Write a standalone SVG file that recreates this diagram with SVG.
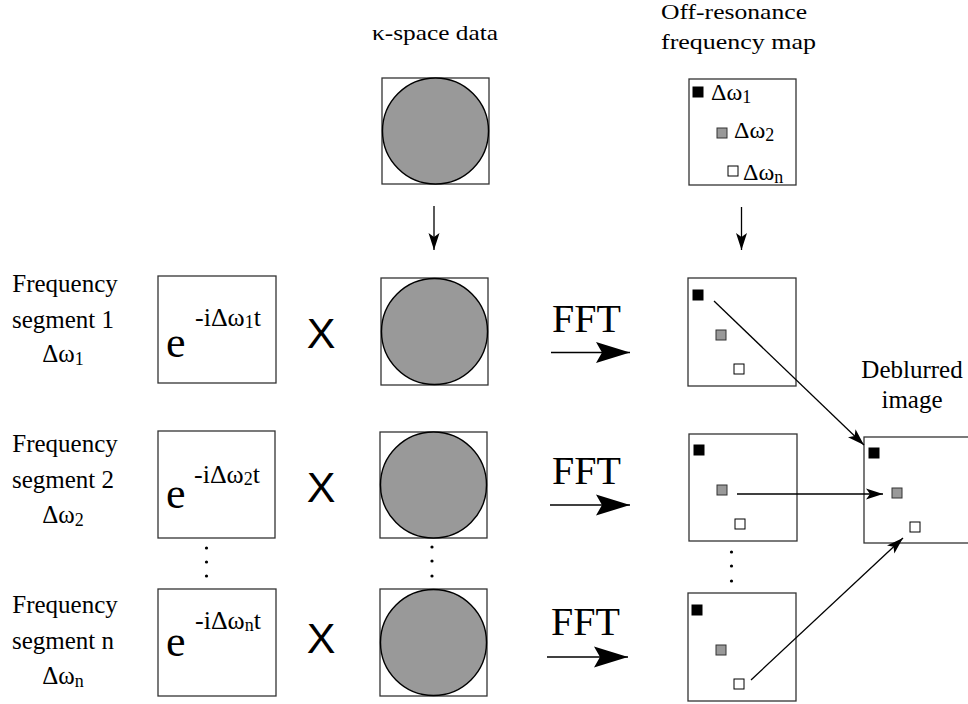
<svg xmlns="http://www.w3.org/2000/svg" width="968" height="704" viewBox="0 0 968 704">
<style>
.t{font-family:"Liberation Serif","Times New Roman",serif;fill:#000}
.lbl{font-size:25px;text-anchor:middle}
.ttl{font-size:22px}
.e{font-size:44px}
.ex{font-size:26px}
.fft{font-size:40px}
.x{font-family:"Liberation Sans",Arial,sans-serif;font-size:43px;text-anchor:middle;fill:#000}
.box{fill:#fff;stroke:#333;stroke-width:1.3}
.circ{fill:#999;stroke:#000;stroke-width:1.4}
.sqb{fill:#000;stroke:#000;stroke-width:1}
.sqg{fill:#999;stroke:#333;stroke-width:1}
.sqw{fill:#fff;stroke:#000;stroke-width:1}
.ln{fill:none;stroke:#000;stroke-width:1.3}
.dot{fill:#000}
</style>
<defs>
<marker id="big" markerUnits="userSpaceOnUse" viewBox="0 -11 34 22" refX="34" refY="0" markerWidth="34" markerHeight="22" orient="auto">
<path d="M0,-10.5 L34,0 L0,10.5 L6,0 z" fill="#000"/>
</marker>
<marker id="sm" markerUnits="userSpaceOnUse" viewBox="0 -6 17 12" refX="17" refY="0" markerWidth="17" markerHeight="12" orient="auto">
<path d="M0,-5.5 L17,0 L0,5.5 L4,0 z" fill="#000"/>
</marker>
</defs>

<g id="title-kspace"><text class="t ttl" x="372" y="40" textLength="126" lengthAdjust="spacingAndGlyphs">κ-space data</text></g>
<g id="title-map">
<text class="t ttl" x="661" y="19" textLength="146" lengthAdjust="spacingAndGlyphs">Off-resonance</text>
<text class="t ttl" x="661" y="49" textLength="155" lengthAdjust="spacingAndGlyphs">frequency map</text>
</g>

<g id="kspace-top">
<rect class="box" x="382" y="78" width="107" height="106"/>
<circle class="circ" cx="435.5" cy="131" r="53"/>
</g>
<g id="map-top">
<rect class="box" x="689" y="79" width="107" height="106"/>
<rect class="sqb" x="693" y="87" width="10" height="10"/>
<text class="t" x="711" y="100" font-size="24">Δω<tspan font-size="18" dy="3">1</tspan></text>
<rect class="sqg" x="717" y="128" width="10" height="10"/>
<text class="t" x="734" y="138" font-size="24">Δω<tspan font-size="18" dy="3">2</tspan></text>
<rect class="sqw" x="728" y="166" width="10" height="10"/>
<text class="t" x="743" y="180" font-size="24">Δω<tspan font-size="18" dy="3">n</tspan></text>
</g>

<!-- Row 1 -->
<g id="label1">
<text class="t lbl" x="65" y="292">Frequency</text>
<text class="t lbl" x="63" y="328">segment 1</text>
<text class="t lbl" x="63" y="362">Δω<tspan font-size="18" dy="3">1</tspan></text>
</g>
<g id="exp1">
<rect class="box" x="158" y="276" width="118" height="107"/>
<text class="t e" x="166" y="357">e</text>
<text class="t ex" x="195" y="326">-iΔω<tspan font-size="18" dy="2">1</tspan><tspan dy="-2">t</tspan></text>
</g>
<g id="times1"><text class="x" x="321" y="348">X</text></g>
<g id="kspace1">
<rect class="box" x="381" y="278" width="107" height="107"/>
<circle class="circ" cx="434.5" cy="331.5" r="53"/>
</g>
<g id="fft1"><text class="t fft" x="552" y="332">FFT</text></g>
<g id="map1">
<rect class="box" x="688" y="278" width="108" height="108"/>
<rect class="sqb" x="693" y="290" width="10" height="10"/>
<rect class="sqg" x="716" y="330" width="10" height="10"/>
<rect class="sqw" x="734" y="364" width="10" height="10"/>
</g>

<!-- Row 2 -->
<g id="label2">
<text class="t lbl" x="65" y="452">Frequency</text>
<text class="t lbl" x="63" y="488">segment 2</text>
<text class="t lbl" x="63" y="523">Δω<tspan font-size="18" dy="3">2</tspan></text>
</g>
<g id="exp2">
<rect class="box" x="158" y="431" width="117" height="107"/>
<text class="t e" x="166" y="508">e</text>
<text class="t ex" x="194" y="483">-iΔω<tspan font-size="18" dy="2">2</tspan><tspan dy="-2">t</tspan></text>
</g>
<g id="times2"><text class="x" x="321" y="502">X</text></g>
<g id="kspace2">
<rect class="box" x="380" y="432" width="107" height="106"/>
<circle class="circ" cx="433.5" cy="485" r="53"/>
</g>
<g id="fft2"><text class="t fft" x="552" y="484">FFT</text></g>
<g id="map2">
<rect class="box" x="689" y="434" width="108" height="107"/>
<rect class="sqb" x="694" y="445" width="10" height="10"/>
<rect class="sqg" x="717" y="485" width="10" height="10"/>
<rect class="sqw" x="735" y="519" width="10" height="10"/>
</g>

<!-- Row 3 -->
<g id="label3">
<text class="t lbl" x="65" y="613">Frequency</text>
<text class="t lbl" x="63" y="649">segment n</text>
<text class="t lbl" x="63" y="684">Δω<tspan font-size="18" dy="3">n</tspan></text>
</g>
<g id="exp3">
<rect class="box" x="158" y="589" width="118" height="107"/>
<text class="t e" x="166" y="656">e</text>
<text class="t ex" x="195" y="629">-iΔω<tspan font-size="18" dy="2">n</tspan><tspan dy="-2">t</tspan></text>
</g>
<g id="times3"><text class="x" x="321" y="653">X</text></g>
<g id="kspace3">
<rect class="box" x="380" y="589" width="107" height="107"/>
<circle class="circ" cx="433.5" cy="642.5" r="53"/>
</g>
<g id="fft3"><text class="t fft" x="551" y="635">FFT</text></g>
<g id="map3">
<rect class="box" x="688" y="593" width="108" height="108"/>
<rect class="sqb" x="692" y="605" width="10" height="10"/>
<rect class="sqg" x="716" y="645" width="10" height="10"/>
<rect class="sqw" x="734" y="679" width="10" height="10"/>
</g>

<g id="deblurred">
<text class="t lbl" x="912" y="378">Deblurred</text>
<text class="t lbl" x="912" y="408">image</text>
<rect class="box" x="864" y="437" width="110" height="106"/>
<rect class="sqb" x="869" y="448" width="10" height="10"/>
<rect class="sqg" x="892" y="488" width="10" height="10"/>
<rect class="sqw" x="910" y="522" width="10" height="10"/>
</g>

<g id="ellipsis">
<circle class="dot" cx="206.5" cy="548" r="1.6"/>
<circle class="dot" cx="206.5" cy="562" r="1.6"/>
<circle class="dot" cx="206.5" cy="576" r="1.6"/>
<circle class="dot" cx="432" cy="547" r="1.6"/>
<circle class="dot" cx="432" cy="561" r="1.6"/>
<circle class="dot" cx="432" cy="576" r="1.6"/>
<circle class="dot" cx="731.5" cy="552" r="1.6"/>
<circle class="dot" cx="731.5" cy="566" r="1.6"/>
<circle class="dot" cx="731.5" cy="581" r="1.6"/>
</g>

<g id="connectors">
<line class="ln" x1="434" y1="206" x2="434" y2="250" marker-end="url(#sm)"/>
<line class="ln" x1="741.5" y1="207" x2="741.5" y2="250" marker-end="url(#sm)"/>
<line class="ln" x1="551" y1="352.5" x2="630" y2="352.5" marker-end="url(#big)"/>
<line class="ln" x1="550" y1="505" x2="630" y2="505" marker-end="url(#big)"/>
<line class="ln" x1="547" y1="657" x2="628" y2="657" marker-end="url(#big)"/>
<line class="ln" x1="714" y1="301" x2="864" y2="445" marker-end="url(#sm)"/>
<line class="ln" x1="737" y1="494" x2="883" y2="494" marker-end="url(#sm)"/>
<line class="ln" x1="751" y1="680" x2="903" y2="538" marker-end="url(#sm)"/>
</g>
</svg>
